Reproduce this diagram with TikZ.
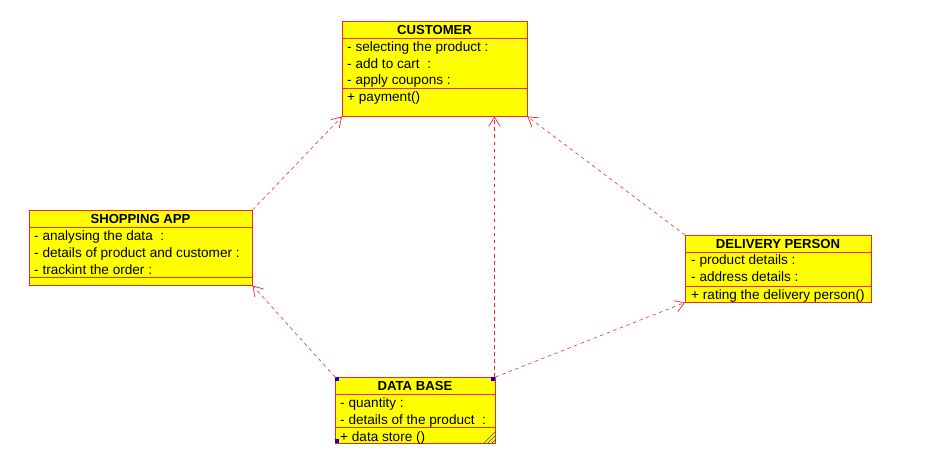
\documentclass[tikz,border=0pt]{standalone}
\usepackage{fontspec}
\setmainfont{Liberation Sans}
\usetikzlibrary{arrows.meta}
\definecolor{umlyellow}{RGB}{255,255,0}
\definecolor{umlred}{RGB}{240,40,40}
\definecolor{handle}{RGB}{0,0,230}
\begin{document}
\begin{tikzpicture}[x=0.03cm,y=-0.03cm,
  font=\fontsize{11.6}{13}\selectfont,
  box/.style={draw=umlred,fill=umlyellow,inner sep=0pt,anchor=north west},
  title/.style={font=\fontsize{11.2}{13}\selectfont\bfseries,inner sep=0pt,text height=8pt,text depth=1pt},
  row/.style={anchor=west,inner sep=0pt,text height=8pt,text depth=2.3pt},
  sep/.style={draw=umlred,line width=0.6pt},
  dep/.style={draw=umlred,line width=0.5pt,dash pattern=on 3pt off 3pt,
    -{Straight Barb[length=8pt,width=10pt,line width=0.6pt]}}]
\useasboundingbox (0,0) rectangle (947,468);
% classes
\node[box,minimum width=5.55cm,minimum height=2.85cm] (cust) at (342,21) {};
\node[box,minimum width=6.69cm,minimum height=2.25cm] (shop) at (29,210) {};
\node[box,minimum width=5.58cm,minimum height=2.01cm] (deliv) at (685,235) {};
\node[box,minimum width=4.80cm,minimum height=1.98cm] (db) at (335,377) {};
% section lines
\foreach \n/\y in {cust/38, cust/88, shop/227, shop/277, deliv/252, deliv/286, db/394, db/427}
  \draw[sep] (\n.west |- 0,\y) -- (\n.east |- 0,\y);
% titles
\node[title] (custT) at (434.5,30.5) {CUSTOMER};
\node[title] (shopT) at (140.5,219.5) {SHOPPING APP};
\node[title] (delivT) at (778,244.5) {DELIVERY PERSON};
\node[title] (dbT) at (415,386.5) {DATA BASE};
% rows
\foreach \i/\y/\t in {1/48.5/- selecting the product :, 2/65/- add to cart \ :, 3/81.5/- apply coupons :, 4/98.5/+ payment()}
  \node[row] (cust\i) at (347,\y) {\t};
\foreach \i/\y/\t in {1/237.5/- analysing the data \ :, 2/254.5/- details of product and customer :, 3/271.5/- trackint the order :}
  \node[row] (shop\i) at (34,\y) {\t};
\foreach \i/\y/\t in {1/261.5/- product details :, 2/278.5/- address details :, 3/296/+ rating the delivery person()}
  \node[row] (deliv\i) at (691,\y) {\t};
\foreach \i/\y/\t in {1/404.5/- quantity :, 2/421/- details of the product \ :, 3/438/+ data store ()}
  \node[row] (db\i) at (340,\y) {\t};
% dependencies
\draw[dep] (shop.north east) -- (cust.south west);
\draw[dep] (db.north west) -- (shop.south east);
\draw[dep] ([xshift=-0.03cm]db.north east) -- ([xshift=-0.03cm]db.north east |- cust.south);
\draw[dep] (db.north east) -- (deliv.south west);
\draw[dep] (deliv.north west) -- (cust.south east);
% selection handles
\fill[handle] (db.north west) rectangle +(4,4);
\fill[handle] (db.north east) rectangle +(-4,4);
\fill[handle] (db.south west) rectangle +(4,-4);
\foreach \k in {4,8,12}
  \draw[black!70,line width=0.4pt] ([xshift=-\k*0.03cm]db.south east) -- ([yshift=\k*0.03cm]db.south east);
\end{tikzpicture}
\end{document}
